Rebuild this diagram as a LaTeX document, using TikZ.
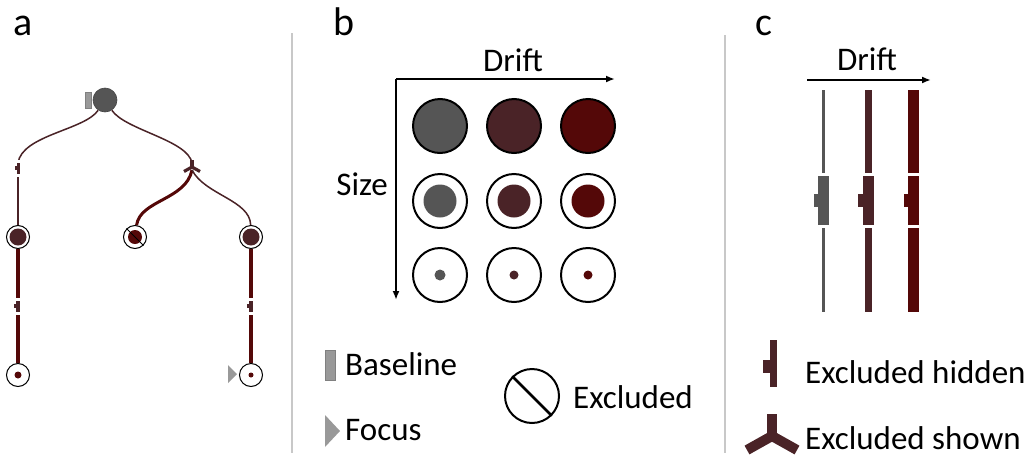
\documentclass[tikz,border=0pt]{standalone}
\usepackage{fontspec}
\setmainfont{Carlito}
\usepackage{xcolor}
\usepackage{tikz}
\usetikzlibrary{arrows.meta}
\usetikzlibrary{positioning}

\definecolor{nodegray}{RGB}{85,85,85}
\definecolor{driftmid}{RGB}{74,35,39}
\definecolor{driftdark}{RGB}{84,8,8}
\definecolor{basegray}{RGB}{153,153,153}
\definecolor{sepgray}{RGB}{200,200,200}

\tikzset{
  lbl/.style={font=\fontsize{33}{37}\selectfont, inner sep=0pt, anchor=base west},
  panel/.style={font=\fontsize{40}{44}\selectfont, inner sep=0pt, anchor=base west},
  bigdot/.style={circle, draw=black, line width=2pt, minimum size=54pt, inner sep=0pt},
  ring/.style={circle, draw=black, line width=2pt, fill=white, minimum size=54pt, inner sep=0pt},
  treering/.style={circle, draw=black, line width=1pt, fill=white, minimum size=23pt, inner sep=0pt},
  baserect/.style={rectangle, fill=basegray, draw=gray, line width=0.8pt, inner sep=0pt},
  thinlink/.style={draw=driftmid, line width=1.5pt},
  thicklink/.style={draw=driftdark, line width=3.5pt},
  axis/.style={line width=2pt, -{Latex[length=9pt,width=7pt]}},
  sep/.style={draw=sepgray, line width=2pt}
}

% hidden marker: x, y, block width, block height, nub width, colour
\newcommand{\hidmark}[6]{%
  \fill[white] ({#1-#3/2-1},{#2-#4/2-3}) rectangle ({#1+#3/2+1},{#2+#4/2+3});
  \fill[#6] ({#1-#3/2},{#2-#4/2}) rectangle ({#1+#3/2},{#2+#4/2});
  \fill[#6] ({#1-#3/2-#5},{#2-#4*0.14}) rectangle ({#1-#3/2},{#2+#4*0.14});
}
% shown marker: x, y, scale, colour
\newcommand{\shownmark}[4]{%
  \begin{scope}[shift={(#1,#2)}, scale=#3]
    \draw[#4, line width={#3*10pt}, line join=miter] (-25,14) -- (0,0) -- (25,14);
    \draw[#4, line width={#3*10pt}] (0,0) -- (0,-22);
  \end{scope}
}

\begin{document}
\begin{tikzpicture}[x=1pt,y=-1pt]
        \useasboundingbox (0,0) rectangle (1032,458);

        % panel letters
        \node[panel] (pa) at (13,35) {a};
        \node[panel] (pb) at (333,35) {b};
        \node[panel] (pc) at (755,35) {c};

        \draw[sep] (292,33) -- (292,453);
        \draw[sep] (725,35) -- (725,453);

        % ---- a: tree
        \node[circle,fill=nodegray,draw=nodegray!80!black,line width=0.6pt,inner sep=0pt,minimum size=24pt] (root) at (105,100) {};
        \node[baserect,minimum width=6pt,minimum height=16pt] (rootbase) at (88,100) {};

        \node[treering] (l1) at (18,237) {};
        \node[treering] (m1) at (135,237) {};
        \node[treering] (r1) at (251,237) {};
        \node[treering] (lb) at (18,375) {};
        \node[treering] (rb) at (251,375) {};
        \fill[driftmid] (l1) circle (8.5pt);
        \fill[driftdark] (m1) circle (7pt);
        \fill[driftmid] (r1) circle (8.5pt);
        \fill[driftdark] (lb) circle (3.5pt);
        \fill[driftdark] (rb) circle (2.5pt);
        \draw[line width=1pt] (m1.135) -- (m1.315);

        \coordinate (sl) at (18,163);
        \coordinate (sr) at (192,163);
        \coordinate (srb) at (192,170);

        \draw[thinlink] (root) .. controls (85,130) and (22,135) .. (sl);
        \draw[thinlink] (root) .. controls (125,130) and (188,140) .. (sr);
        \draw[thinlink] (sl) -- (l1);
        \draw[thicklink,line width=3pt] (srb) .. controls (186,200) and (140,200) .. (m1);
        \draw[thinlink] (srb) .. controls (205,195) and (250,200) .. (r1);
        \draw[thicklink] (l1) -- (lb);
        \draw[thicklink] (r1) -- (rb);

        \hidmark{18}{168}{3}{11}{2}{driftmid}
        \hidmark{18}{306}{4}{11}{2}{driftmid}
        \hidmark{251}{306}{4}{11}{2}{driftmid}
        \shownmark{192}{167}{0.32}{driftmid}

        \fill[basegray] (228,365) -- (237,374) -- (228,383) -- cycle;

        % ---- b: size and drift
        \coordinate (bo) at (396,79);
        \coordinate (bx) at (615,79);
        \coordinate (by) at (396,300);
        \draw[axis] (bo) -- (bx);
        \draw[axis] (bo) -- (by);
        \node[lbl, anchor=base] (bdrift) at (513,71) {Drift};
        \node[lbl, anchor=base east] (bsize) at (388,195) {Size};

        \node[bigdot,fill=nodegray] (g11) at (440,126) {};
        \node[bigdot,fill=driftmid] (g12) at (514,126) {};
        \node[bigdot,fill=driftdark] (g13) at (588,126) {};

        \node[ring] (g21) at (440,201) {};
        \node[ring] (g22) at (514,201) {};
        \node[ring] (g23) at (588,201) {};
        \fill[nodegray] (g21) circle (16.5pt);
        \fill[driftmid] (g22) circle (16.5pt);
        \fill[driftdark] (g23) circle (16.5pt);

        \node[ring] (g31) at (440,275) {};
        \node[ring] (g32) at (514,275) {};
        \node[ring] (g33) at (588,275) {};
        \fill[nodegray] (g31) circle (5.5pt);
        \fill[driftmid] (g32) circle (4.5pt);
        \fill[driftdark] (g33) circle (4.5pt);

        % legend b
        \node[baserect,minimum width=10pt,minimum height=30pt] (legbase) at (330,365) {};
        \node[lbl] (tbase) at (345,375) {Baseline};
        \fill[basegray] (325,415) -- (340,431) -- (325,447) -- cycle;
        \node[lbl] (tfocus) at (345,440) {Focus};
        \node[ring] (legexcl) at (532,396) {};
        \draw[line width=2.5pt] (legexcl.135) -- (legexcl.315);
        \node[lbl] (texcl) at (573,408) {Excluded};

        % ---- c: bars
        \coordinate (co) at (807,80);
        \coordinate (cx) at (931,80);
        \draw[axis] (co) -- (cx);
        \node[lbl, anchor=base] (cdrift) at (867,70) {Drift};

        \fill[nodegray] (821.5,90) rectangle (824.5,312);
        \fill[driftmid] (864.5,90) rectangle (871.5,312);
        \fill[driftdark] (907.5,90) rectangle (919,312);
        \hidmark{823.5}{200.5}{11}{49}{4}{nodegray}
        \hidmark{868.5}{200.5}{11}{49}{5}{driftmid}
        \hidmark{913.5}{200.5}{11.5}{49}{4}{driftdark}

        % legend c
        \fill[driftmid] (770,340) rectangle (777,387);
        \fill[driftmid] (763,360) rectangle (770,373);
        \node[lbl] (thidden) at (805,383) {Excluded hidden};
        \shownmark{772}{436}{1}{driftmid}
        \node[lbl] (tshown) at (805,449) {Excluded shown};

    \end{tikzpicture}
\end{document}
